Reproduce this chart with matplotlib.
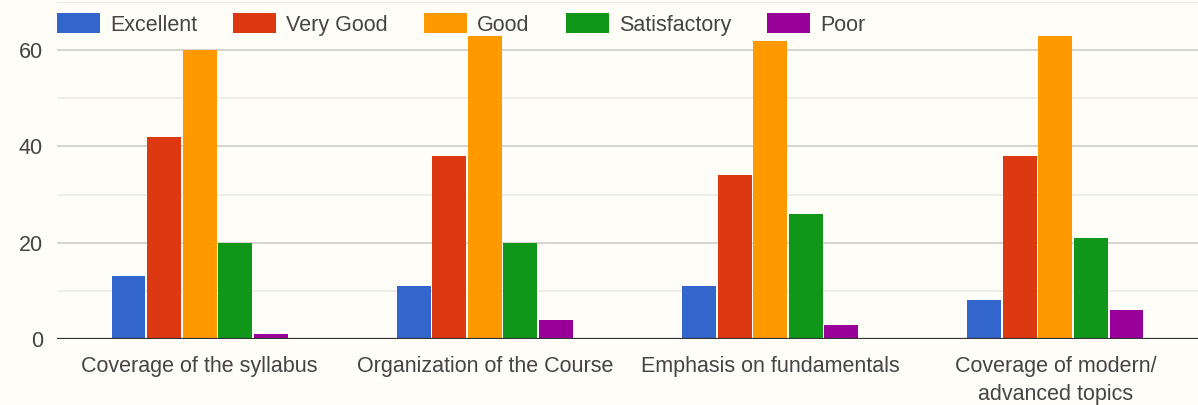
import matplotlib.pyplot as plt
import numpy as np
from matplotlib.patches import Patch

categories = ["Coverage of the syllabus", "Organization of the Course",
              "Emphasis on fundamentals", "Coverage of modern/\nadvanced topics"]
series = ["Excellent", "Very Good", "Good", "Satisfactory", "Poor"]
excellent = [13, 11, 11, 8]
very_good = [42, 38, 34, 38]
good = [60, 63, 62, 63]
satisfactory = [20, 20, 26, 21]
poor = [1, 4, 3, 6]
values = [excellent, very_good, good, satisfactory, poor]
colors = ["#3366cc", "#dc3912", "#ff9900", "#109618", "#990099"]

plt.rcParams['font.family'] = ['Liberation Sans', 'DejaVu Sans']
bg = "#fffdf8"
txt = "#444444"

fig = plt.figure(figsize=(11.98, 4.05), dpi=100, facecolor=bg)
ax = fig.add_axes([57 / 1198, 66 / 405, 1 - 57 / 1198, 337 / 405])
ax.set_facecolor(bg)

x = np.arange(len(categories))
step = 0.1245
for i, (name, vals, c) in enumerate(zip(series, values, colors)):
    ax.bar(x + (i - 2) * step, vals, width=step - 0.006, color=c,
           label=name, zorder=3)

ax.set_xlim(-0.5, len(categories) - 0.5)
ax.set_ylim(0, 70)
ax.set_yticks([0, 20, 40, 60])
ax.set_yticks([10, 30, 50, 70], minor=True)
ax.grid(axis='y', which='major', color='#d0ccc8', linewidth=1.2, zorder=0)
ax.grid(axis='y', which='minor', color='#eeeae6', linewidth=1.2, zorder=0)
ax.axhline(0, color='#333333', linewidth=1.6, zorder=4)
for s in ax.spines.values():
    s.set_visible(False)

ax.set_xticks(x)
ax.set_xticklabels(categories, linespacing=1.45)
ax.tick_params(axis='both', which='both', length=0, labelsize=15.5,
               labelcolor=txt)
ax.tick_params(axis='x', pad=12)
ax.tick_params(axis='y', pad=10)

handles = [Patch(facecolor=c) for c in colors]
fig.legend(handles, series, loc='center left', bbox_to_anchor=(57 / 1198, 1 - 24.5 / 405),
           ncol=5, frameon=False, fontsize=15.5, labelcolor=txt,
           handlelength=2.0, handleheight=1.0, handletextpad=0.47,
           columnspacing=1.67, borderpad=0, borderaxespad=0)

fig.savefig("out.png", dpi=100, facecolor=bg)
